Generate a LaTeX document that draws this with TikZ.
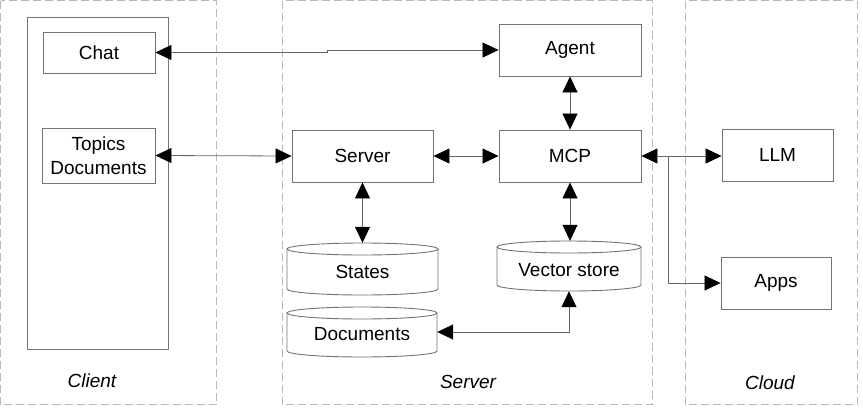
\documentclass[tikz,border=0pt]{standalone}
\usepackage{fontspec}
\setmainfont{Liberation Sans}
\usetikzlibrary{arrows.meta}
\begin{document}
\begin{tikzpicture}[x=1pt,y=1pt,
  box/.style={draw=black!55,line width=0.9pt,fill=white,inner sep=0pt,font=\fontsize{19}{24}\selectfont,align=center},
  zone/.style={draw=black!28,line width=0.9pt,dash pattern=on 8pt off 4pt},
  zlabel/.style={font=\fontsize{19}{22}\selectfont\itshape},
  cyl/.style={draw=none,inner sep=0pt,font=\fontsize{19}{22}\selectfont},
  conn/.style={draw=black!60,line width=0.8pt,{Triangle[length=16pt,width=15pt,color=black]}-{Triangle[length=16pt,width=15pt,color=black]}},
  connend/.style={draw=black!60,line width=0.8pt,-{Triangle[length=16pt,width=15pt,color=black]}},
  cylline/.style={draw=black!55,line width=0.9pt,fill=white}]
\useasboundingbox (0,0) rectangle (863,-416);
% zones
\draw[zone] (0.5,-0.5) rectangle (216.5,-404.5);
\draw[zone] (282,-0.5) rectangle (652,-404.5);
\draw[zone] (685,-0.5) rectangle (857,-404.5);
\node[zlabel] (lclient) at (92,-381) {Client};
\node[zlabel] (lserver) at (468,-382) {Server};
\node[zlabel] (lcloud) at (770,-383) {Cloud};
% client
\node[box,minimum width=141pt,minimum height=332pt] (clientui) at (97.5,-183) {};
\node[box,minimum width=112pt,minimum height=41pt] (chat) at (99,-52.5) {Chat};
\node[box,minimum width=113pt,minimum height=55pt] (topics) at (98.5,-155.5) {Topics\\Documents};
% server
\node[box,minimum width=142pt,minimum height=52pt] (agent) at (570,-50) {Agent};
\node[box,minimum width=141pt,minimum height=52pt] (server) at (362.5,-156) {Server};
\node[box,minimum width=142pt,minimum height=52pt] (mcp) at (570,-156) {MCP};
% cloud
\node[box,minimum width=111pt,minimum height=52pt] (llm) at (777.5,-155) {LLM};
\node[box,minimum width=110pt,minimum height=52pt] (apps) at (776,-283) {Apps};
% cylinders
\draw[cylline] (287,-249) -- (287,-289) arc[start angle=180,end angle=360,x radius=75.5,y radius=6] -- (438,-249);
\draw[cylline] (362.5,-249) ellipse[x radius=75.5,y radius=6];
\node[cyl,minimum width=151pt,minimum height=52pt] (states) at (362.5,-269) {};
\node[cyl] (statest) at (362.5,-272) {States};
\draw[cylline] (497,-247) -- (497,-285) arc[start angle=180,end angle=360,x radius=72,y radius=6] -- (641,-247);
\draw[cylline] (569,-247) ellipse[x radius=72,y radius=6];
\node[cyl,minimum width=144pt,minimum height=50pt] (vec) at (569,-266) {};
\node[cyl] (vect) at (569,-270) {Vector store};
\draw[cylline] (287,-313) -- (287,-351) arc[start angle=180,end angle=360,x radius=75,y radius=6] -- (437,-313);
\draw[cylline] (362,-313) ellipse[x radius=75,y radius=6];
\node[cyl,minimum width=150pt,minimum height=50pt] (docs) at (362,-332) {};
\node[cyl] (docst) at (362,-334) {Documents};
% connectors
\coordinate (jog) at (327,0);
\draw[conn] (chat.east) -- (jog |- chat.east) -- (jog |- agent.west) -- (agent.west);
\draw[conn] (topics.east) -- (server.west);
\draw[conn] (server.east) -- (mcp.west);
\draw[conn] (agent.south) -- (mcp.north);
\draw[conn] (server.south) -- (states.north);
\draw[conn] (mcp.south) -- (mcp.south |- vec.north);
\draw[conn] (docs.east) -- (docs.east -| vec.south) -- (vec.south);
\draw[conn] (mcp.east) -- (mcp.east -| llm.west);
\coordinate (br) at (668,-156);
\draw[connend] (br) -- (br |- apps.west) -- (apps.west);
\end{tikzpicture}
\end{document}
